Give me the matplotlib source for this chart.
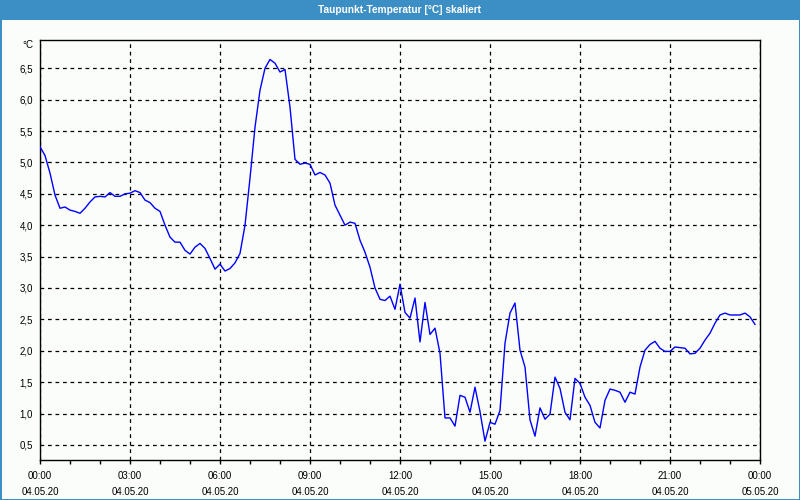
import matplotlib
matplotlib.use("Agg")
import matplotlib.pyplot as plt
from matplotlib.patches import Rectangle
import numpy as np

# ---- data: dew point every 10 minutes, 04.05.20 00:00 .. 23:50 ----
hours = [i / 6.0 for i in range(144)]
dewpoint = [
    5.25, 5.11, 4.83, 4.48, 4.27, 4.29, 4.24, 4.22, 4.19, 4.27, 4.37, 4.45,
    4.46, 4.45, 4.52, 4.46, 4.46, 4.50, 4.51, 4.55, 4.52, 4.40, 4.36, 4.27,
    4.22, 4.00, 3.81, 3.73, 3.73, 3.60, 3.54, 3.65, 3.71, 3.63, 3.47, 3.30,
    3.38, 3.27, 3.31, 3.40, 3.55, 4.00, 4.75, 5.56, 6.15, 6.50, 6.64, 6.58,
    6.44, 6.48, 5.88, 5.05, 4.97, 4.99, 4.97, 4.80, 4.84, 4.80, 4.67, 4.32,
    4.16, 4.00, 4.05, 4.03, 3.76, 3.57, 3.33, 3.00, 2.82, 2.80, 2.87, 2.66,
    3.06, 2.61, 2.52, 2.84, 2.14, 2.77, 2.26, 2.36, 1.96, 0.93, 0.93, 0.80,
    1.29, 1.26, 1.02, 1.42, 1.03, 0.56, 0.86, 0.83, 1.05, 2.12, 2.60, 2.76,
    2.01, 1.74, 0.90, 0.64, 1.09, 0.91, 0.99, 1.58, 1.40, 1.02, 0.90, 1.56,
    1.48, 1.26, 1.13, 0.86, 0.77, 1.21, 1.39, 1.37, 1.34, 1.18, 1.34, 1.31,
    1.74, 2.01, 2.10, 2.15, 2.04, 1.99, 1.99, 2.06, 2.05, 2.04, 1.95, 1.96,
    2.04, 2.17, 2.28, 2.44, 2.57, 2.60, 2.57, 2.57, 2.57, 2.60, 2.54, 2.42,
]
x_ticks = [0, 3, 6, 9, 12, 15, 18, 21, 24]
x_labels = ["00:00\n04.05.20", "03:00\n04.05.20", "06:00\n04.05.20",
            "09:00\n04.05.20", "12:00\n04.05.20", "15:00\n04.05.20",
            "18:00\n04.05.20", "21:00\n04.05.20", "00:00\n05.05.20"]
y_ticks = [0.5, 1.0, 1.5, 2.0, 2.5, 3.0, 3.5, 4.0, 4.5, 5.0, 5.5, 6.0, 6.5]
y_labels = ["0,5", "1,0", "1,5", "2,0", "2,5", "3,0", "3,5", "4,0", "4,5",
            "5,0", "5,5", "6,0", "6,5"]
title = "Taupunkt-Temperatur [°C] skaliert"
unit = "°C"

BLUE_BAR = "#3c8fc5"
BG = "#fbfdfb"
FONT = ["Liberation Sans", "DejaVu Sans"]

fig = plt.figure(figsize=(8, 5), dpi=100, facecolor=BG)
W, H = 800, 500

# title bar and border
fig.patches.append(Rectangle((0, 1 - 20 / H), 1, 20 / H, transform=fig.transFigure,
                             facecolor=BLUE_BAR, edgecolor="none", zorder=0))
for (x0, y0, w, h) in [(0, 0, 1.5 / W, 1), (1 - 1.5 / W, 0, 1.5 / W, 1), (0, 0, 1, 1.5 / H)]:
    fig.patches.append(Rectangle((x0, y0), w, h, transform=fig.transFigure,
                                 facecolor=BLUE_BAR, edgecolor="none", zorder=0))
fig.text(0.5, 1 - 10 / H, title, color="white", ha="center", va="center",
         fontsize=7.3, fontweight="bold", family=FONT)

ax = fig.add_axes([40 / W, 40 / H, 720 / W, 420 / H])
ax.set_facecolor(BG)
ax.plot(hours, dewpoint, color="#0000ff", linewidth=1.0, zorder=3)

ax.set_xlim(0, 24)
ax.set_ylim(0.26, 6.95)

ax.set_xticks(x_ticks)
ax.set_xticklabels(x_labels, fontsize=7, linespacing=1.75, family=FONT)
ax.set_xticks(range(25), minor=True)
ax.tick_params(axis="x", which="both", direction="out", length=3, width=1,
               color="black", pad=5)
ax.set_yticks(y_ticks)
ax.set_yticklabels(y_labels, fontsize=7, family=FONT)
ax.tick_params(axis="y", length=0, pad=5)

ax.grid(True, which="major", color="black", linestyle=(0, (3, 3)), linewidth=0.9)
for s in ax.spines.values():
    s.set_color("black")
    s.set_linewidth(1.0)

fig.text(33 / W, 1 - 45 / H, unit, ha="right", va="center", fontsize=7, family=FONT)

fig.savefig("out.png", dpi=100, facecolor=BG)
